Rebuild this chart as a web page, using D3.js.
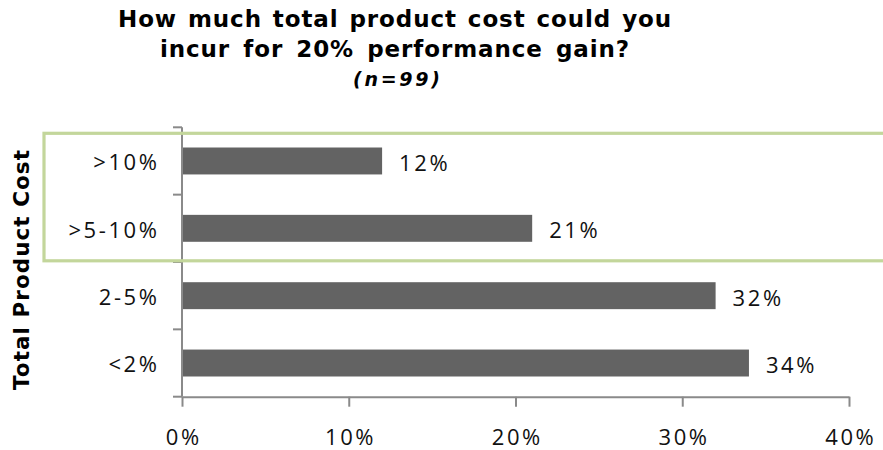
<!DOCTYPE html>
<html>
<head>
<meta charset="utf-8">
<script src="https://cdn.jsdelivr.net/npm/d3@7"></script>
<style>
  html, body { margin: 0; padding: 0; background: #fff; }
  svg { display: block; }
</style>
</head>
<body>
<svg id="chart" width="883" height="450"></svg>
<script>
// Cost tiers (top to bottom) and share of respondents
const categories = [">10%", ">5-10%", "2-5%", "<2%"];
const shares = [12, 21, 32, 34];
const xTicks = [0, 10, 20, 30, 40];
const titleLines = ["How much total product cost could you", "incur for 20% performance gain?"];
const subtitle = "(n=99)";
const yTitle = "Total Product Cost";
const highlighted = [">10%", ">5-10%"];

const svg = d3.select("#chart");
const W = 883, H = 450;
const margin = { left: 182, right: 34, top: 127.3, bottom: 53.3 };

const x = d3.scaleLinear().domain([0, 40]).range([margin.left, W - margin.right]);
const y = d3.scaleBand().domain(categories)
  .range([margin.top, H - margin.bottom])
  .paddingInner(0.6).paddingOuter(0.3);

const labelFont = "'Open Sans', 'Noto Sans', sans-serif";
const labelSize = 22;
const labelSpacing = 2.6;
const headFont = "'DejaVu Sans', Verdana, sans-serif";
const axisColor = "#8a8a8a";

// Bars
svg.append("g").selectAll("rect")
  .data(categories)
  .join("rect")
  .attr("x", x(0))
  .attr("y", d => y(d))
  .attr("width", (d, i) => x(shares[i]) - x(0))
  .attr("height", y.bandwidth())
  .attr("fill", "#636363");

// Value labels at the bar ends
svg.append("g").selectAll("text")
  .data(categories)
  .join("text")
  .attr("x", (d, i) => x(shares[i]) + 17)
  .attr("y", d => y(d) + y.bandwidth() / 2)
  .attr("dy", "0.45em")
  .attr("font-family", labelFont)
  .attr("font-size", labelSize)
  .attr("letter-spacing", labelSpacing)
  .attr("fill", "#111")
  .text((d, i) => shares[i] + "%");

// x axis
const xAxis = svg.append("g")
  .attr("transform", `translate(0,${H - margin.bottom})`)
  .call(d3.axisBottom(x).tickValues(xTicks).tickFormat(d => d + "%")
    .tickSize(10).tickSizeOuter(0).tickPadding(23));
xAxis.select(".domain").attr("stroke", axisColor).attr("stroke-width", 2);
xAxis.selectAll(".tick line").attr("stroke", axisColor).attr("stroke-width", 2);
xAxis.selectAll(".tick text")
  .attr("font-family", labelFont)
  .attr("font-size", labelSize)
  .attr("letter-spacing", labelSpacing)
  .attr("dx", labelSpacing / 2)
  .attr("fill", "#111");

// y axis: vertical line plus category boundary ticks
const bounds = d3.range(categories.length + 1)
  .map(i => margin.top + i * (H - margin.top - margin.bottom) / categories.length);
const yAxisG = svg.append("g");
yAxisG.append("line")
  .attr("x1", x(0)).attr("x2", x(0))
  .attr("y1", bounds[0]).attr("y2", bounds[bounds.length - 1])
  .attr("stroke", axisColor).attr("stroke-width", 2);
yAxisG.selectAll("line.b")
  .data(bounds)
  .join("line")
  .attr("class", "b")
  .attr("x1", x(0) - 9).attr("x2", x(0))
  .attr("y1", d => d).attr("y2", d => d)
  .attr("stroke", axisColor).attr("stroke-width", 2);

// Category labels
svg.append("g").selectAll("text")
  .data(categories)
  .join("text")
  .attr("x", x(0) - 25 + labelSpacing)
  .attr("y", d => y(d) + y.bandwidth() / 2)
  .attr("dy", "0.43em")
  .attr("text-anchor", "end")
  .attr("font-family", labelFont)
  .attr("font-size", labelSize)
  .attr("letter-spacing", labelSpacing)
  .attr("fill", "#111")
  .text(d => d);

// Highlight box round the top two tiers (runs off the right edge)
const hiTop = bounds[0] + 6;
const hiBottom = bounds[categories.indexOf(highlighted[highlighted.length - 1]) + 1] - 1.2;
svg.append("rect")
  .attr("x", 44)
  .attr("y", hiTop)
  .attr("width", 900)
  .attr("height", hiBottom - hiTop)
  .attr("fill", "none")
  .attr("stroke", "#c3d69b")
  .attr("stroke-width", 3.2);

// Stretch a text's word gaps so the line fills the given width
function fitWords(sel, width) {
  const node = sel.node();
  const natural = node.getComputedTextLength();
  const gaps = (sel.text().match(/ /g) || []).length;
  if (gaps > 0 && natural < width) sel.attr("word-spacing", (width - natural) / gaps);
}

// Title
const titleX = 395;
const titleWidths = [554, 470];
titleLines.forEach((t, i) => {
  const line = svg.append("text")
    .attr("x", titleX)
    .attr("y", 26.7 + i * 30.6)
    .attr("text-anchor", "middle")
    .attr("font-family", headFont)
    .attr("font-weight", "bold")
    .attr("font-size", 23)
    .attr("letter-spacing", 0.9)
    .attr("fill", "#000")
    .text(t);
  fitWords(line, titleWidths[i]);
});
svg.append("text")
  .attr("x", 396.5).attr("y", 86)
  .attr("text-anchor", "middle")
  .attr("font-family", headFont)
  .attr("font-weight", "bold")
  .attr("font-style", "italic")
  .attr("font-size", 19)
  .attr("textLength", 87)
  .attr("lengthAdjust", "spacing")
  .attr("fill", "#000")
  .text(subtitle);

// Y axis title
svg.append("text")
  .attr("transform", "translate(29,270) rotate(-90)")
  .attr("text-anchor", "middle")
  .attr("font-family", headFont)
  .attr("font-weight", "bold")
  .attr("font-size", 21.5)
  .attr("textLength", 240)
  .attr("lengthAdjust", "spacing")
  .attr("fill", "#000")
  .text(yTitle);
</script>
</body>
</html>
